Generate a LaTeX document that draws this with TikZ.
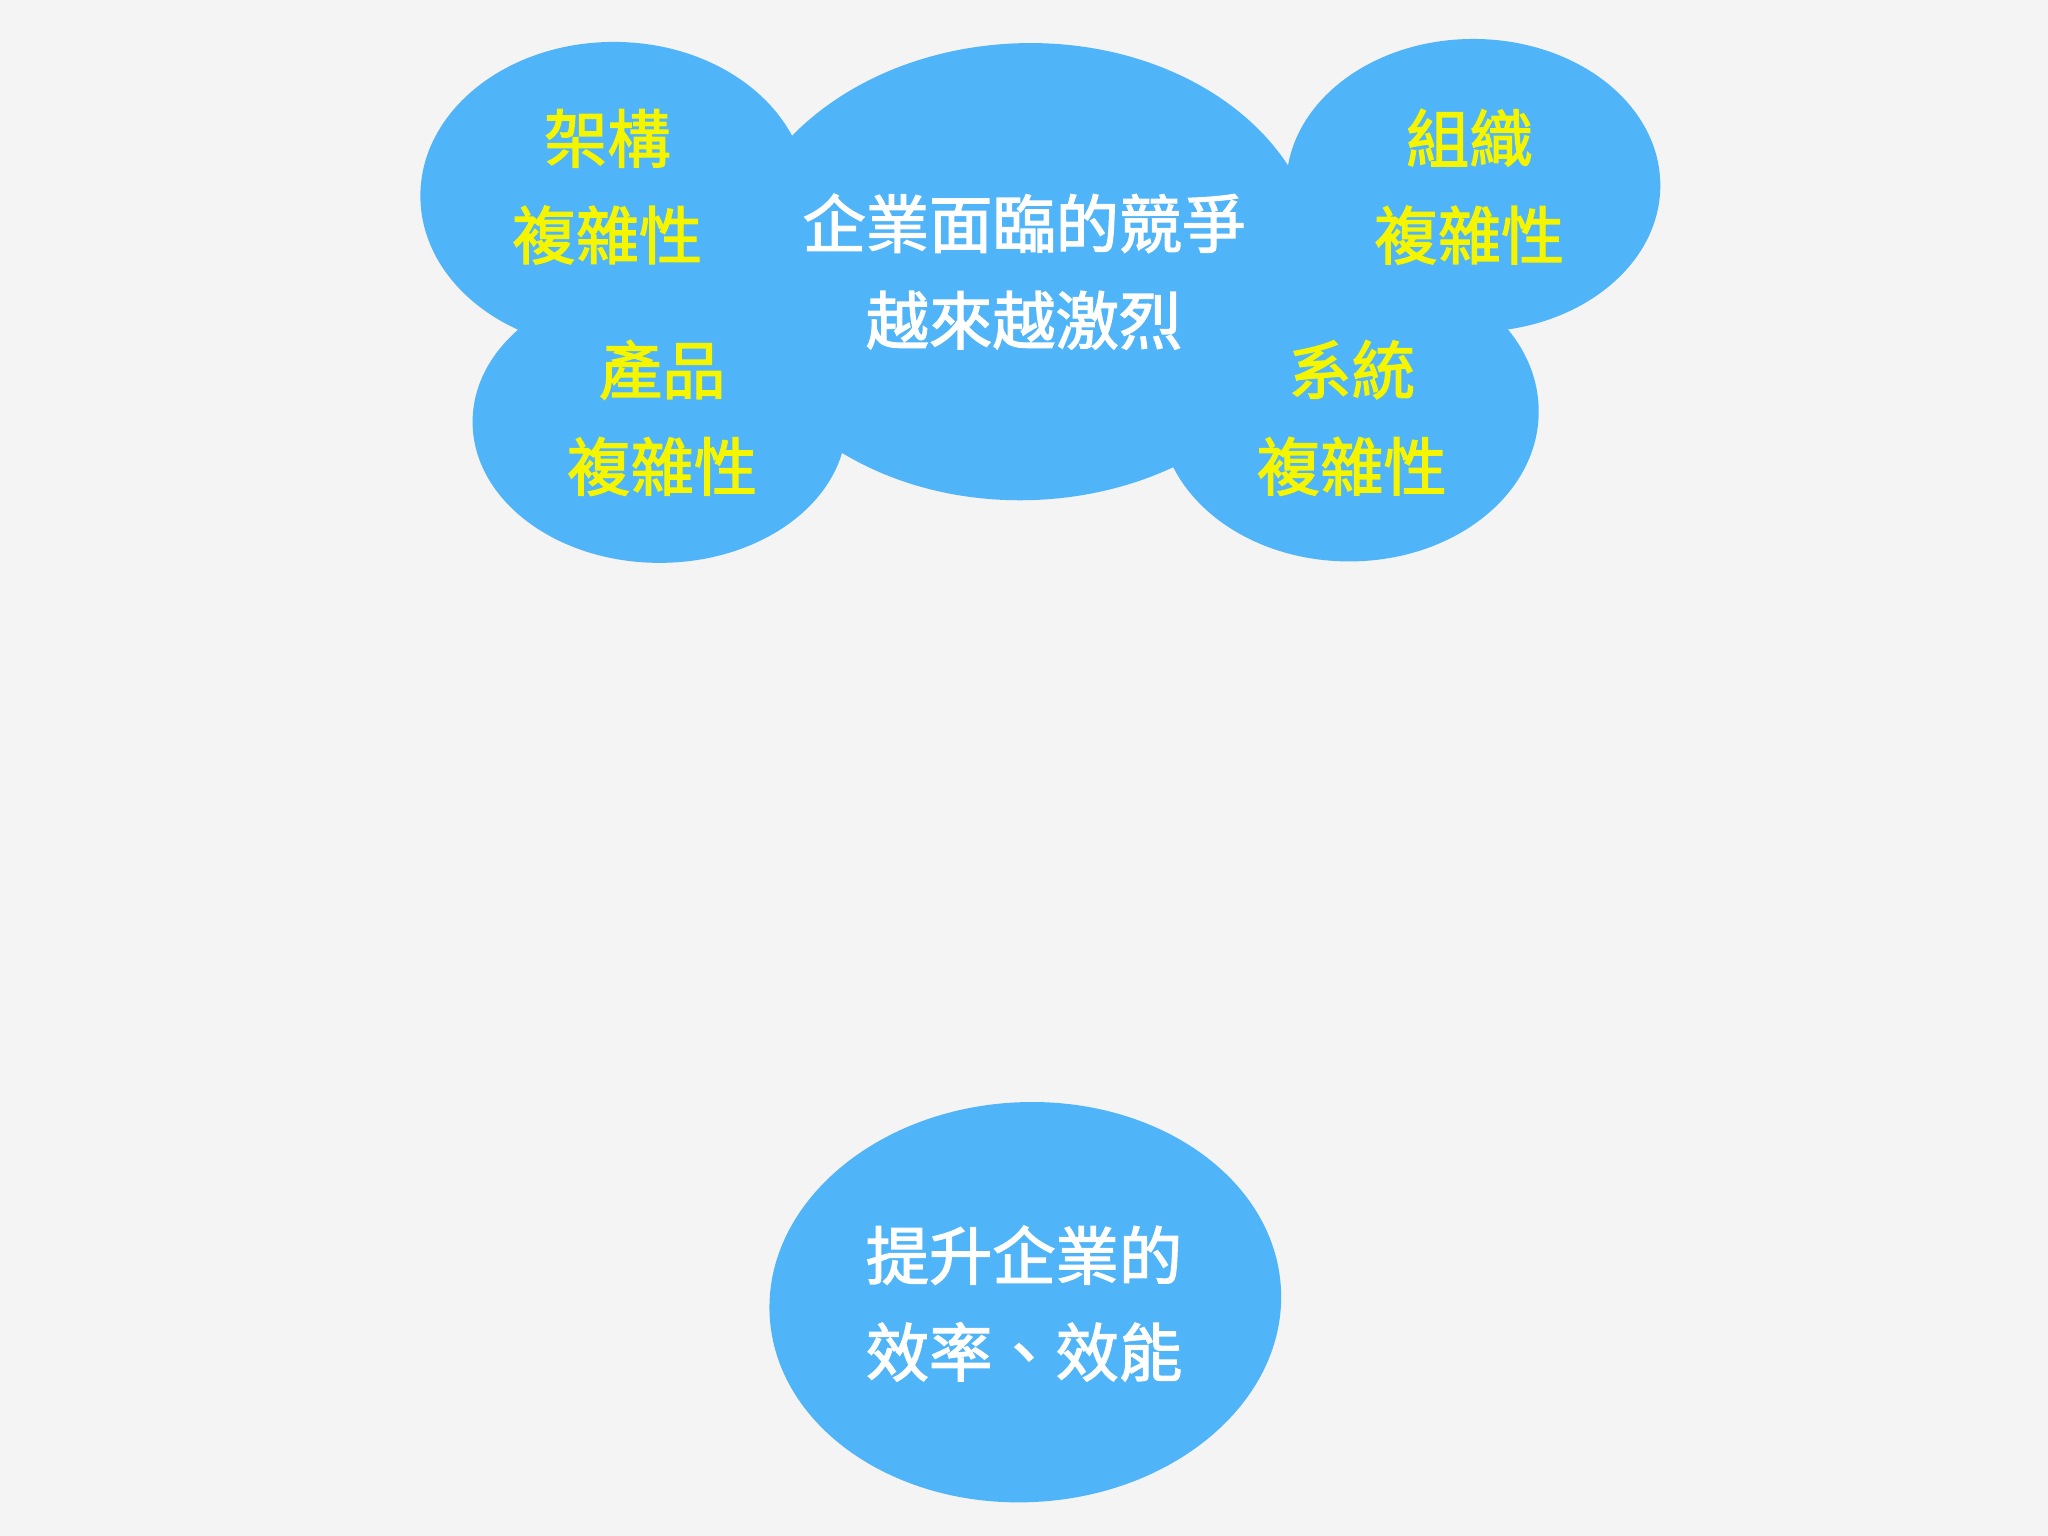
\documentclass[tikz,border=0pt]{standalone}
\usepackage{fontspec}
\usepackage{xcolor}
\usepackage{tikz}
\usetikzlibrary{shapes.geometric}
\newfontfamily\cjk{Noto Sans CJK TC}[FakeBold=2]

\definecolor{bubbleblue}{HTML}{50B4F8}
\definecolor{bgrey}{HTML}{F4F4F4}
\definecolor{ylw}{HTML}{F5F500}

\begin{document}
\begin{tikzpicture}[x=0.013061cm, y=-0.013061cm,
        bubble/.style = {ellipse, fill = bubbleblue, inner sep = 0pt},
        word/.style = {align = center, inner sep = 0pt, font = \cjk\fontsize{18}{27.5}\selectfont},
        ylword/.style = {word, text = ylw},
        whword/.style = {word, text = white}]
        \fill [bgrey] (0, 0) rectangle (1568, 1176);
        % the cloud
        \node (arch) at (470, 150) [bubble, minimum width = 3.87cm, minimum height = 3.08cm] {};
        \node (prod) at (505, 323) [bubble, minimum width = 3.74cm, minimum height = 2.82cm] {};
        \node (comp) at (785, 208) [bubble, minimum width = 5.88cm, minimum height = 4.57cm, rotate = 2] {};
        \node (org) at (1128, 142) [bubble, minimum width = 3.74cm, minimum height = 2.93cm] {};
        \node (sys) at (1033, 315) [bubble, minimum width = 3.79cm, minimum height = 3.00cm] {};
        \node (goal) at (785, 997) [bubble, minimum width = 5.12cm, minimum height = 4.00cm, rotate = 3] {};
        % labels
        \node (archtxt) at (465, 143) [ylword] {架構\\複雜性};
        \node (prodtxt) at (507, 320) [ylword] {產品\\複雜性};
        \node (orgtxt) at (1125, 143) [ylword] {組織\\複雜性};
        \node (systxt) at (1035, 320) [ylword] {系統\\複雜性};
        \node (comptxt) at (784, 208) [whword] {企業面臨的競爭\\越來越激烈};
        \node (goaltxt) at (784, 998) [whword] {提升企業的\\效率、效能};
    \end{tikzpicture}
\end{document}
